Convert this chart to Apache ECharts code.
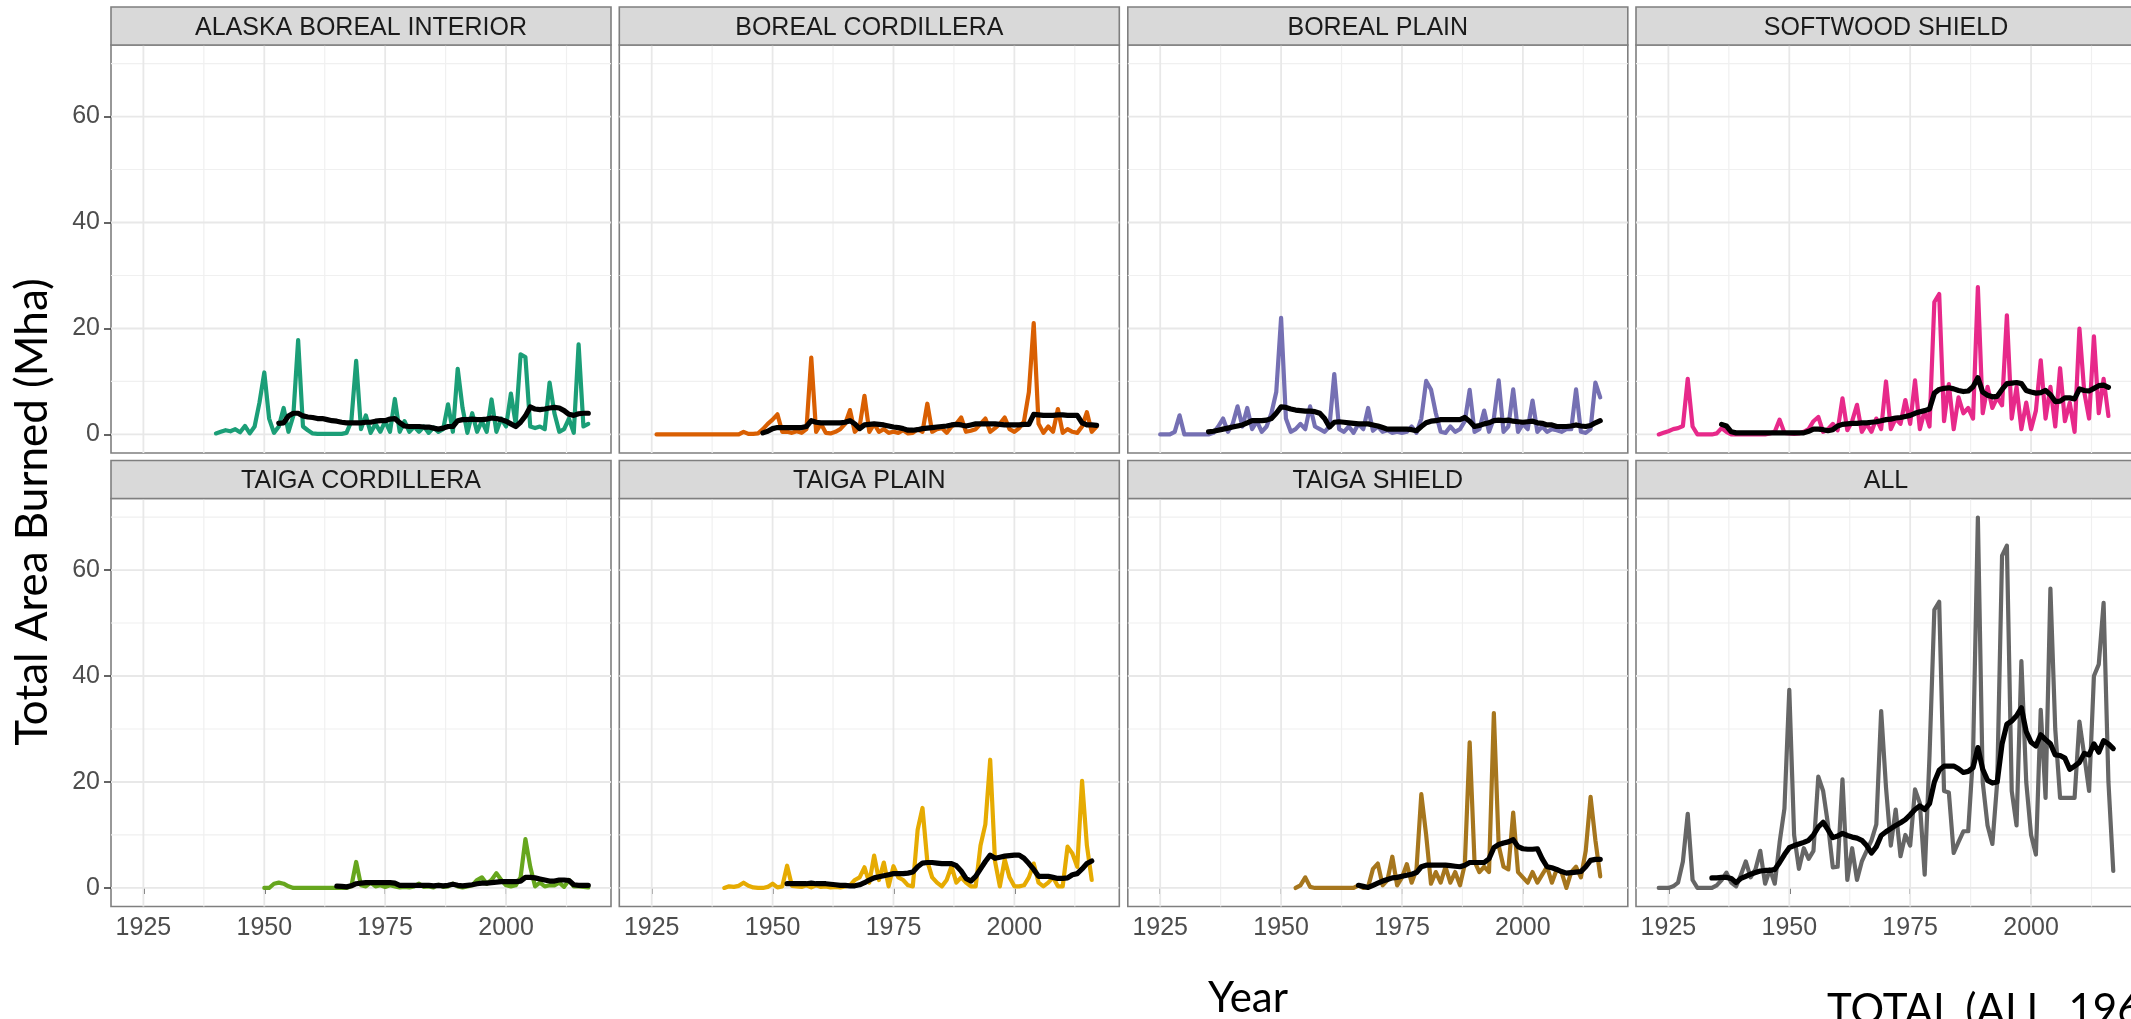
<!DOCTYPE html>
<html>
<head>
<meta charset="utf-8">
<script src="https://cdn.jsdelivr.net/npm/echarts@6.0.0/dist/echarts.min.js"></script>
<style>
  html, body { margin: 0; padding: 0; background: #ffffff; }
  #chart { width: 2131px; height: 1019px; }
</style>
</head>
<body>
<div id="chart"></div>
<script>
// Facet order: left to right, top row then bottom row
const regions = ['ALASKA BOREAL INTERIOR', 'BOREAL CORDILLERA', 'BOREAL PLAIN', 'SOFTWOOD SHIELD',
                 'TAIGA CORDILLERA', 'TAIGA PLAIN', 'TAIGA SHIELD', 'ALL'];
const lineColors = ['#1b9e77', '#d95f02', '#7570b3', '#e7298a', '#66a61e', '#e6ab02', '#a6761d', '#666666'];

// Annual area burned (Mha); each list starts at the matching year in burnedStart
const burnedStart = [1940, 1926, 1925, 1923, 1950, 1940, 1953, 1923];
const alaskaBurned = [
  0.2, 0.5, 0.8, 0.6, 1.0, 0.4, 1.6, 0.2, 1.5, 6.0,
  11.7, 3.0, 0.3, 1.5, 5.0, 0.5, 3.5, 17.8, 1.5, 0.8,
  0.2, 0.1, 0.1, 0.1, 0.1, 0.1, 0.1, 0.3, 2.5, 13.9,
  1.0, 3.6, 0.3, 2.0, 0.5, 2.5, 0.5, 6.7, 0.5, 2.5,
  0.5, 1.5, 0.5, 1.5, 0.3, 1.3, 0.5, 1.0, 5.7, 0.5,
  12.4, 5.0, 0.3, 4.0, 0.5, 2.5, 0.5, 6.6, 0.5, 3.0,
  1.5, 7.7, 2.0, 15.1, 14.6, 1.5, 1.2, 1.5, 1.0, 9.8,
  4.0, 0.5, 1.0, 3.0, 0.3, 17.0, 1.5, 2.0
];
const borealCordilleraBurned = [
  0, 0, 0, 0, 0, 0, 0, 0, 0, 0, 0, 0, 0, 0, 0, 0, 0, 0,
  0.5, 0.1, 0.1, 0.2, 1.0, 2.0, 2.8, 3.8, 0.5, 0.5,
  0.3, 0.6, 0.3, 1.0, 14.5, 0.5, 2.0, 0.3, 0.2, 0.5,
  1.0, 2.0, 4.6, 0.5, 1.5, 7.3, 0.5, 2.0, 0.5, 1.0,
  0.3, 0.5, 0.3, 0.8, 0.2, 0.3, 1.0, 0.5, 5.8, 0.5,
  1.0, 1.2, 0.3, 1.5, 2.0, 3.2, 0.5, 0.7, 1.0, 2.0,
  3.0, 0.5, 1.2, 2.0, 3.2, 1.0, 0.5, 1.2, 2.5, 8.0,
  21.0, 2.0, 0.3, 1.5, 0.5, 4.8, 0.3, 1.0, 0.5, 0.3,
  1.5, 4.2, 0.5, 1.5
];
const borealPlainBurned = [
  0, 0, 0, 0.5, 3.6, 0, 0, 0, 0, 0,
  0, 0.3, 1.5, 3.0, 0.5, 2.0, 5.3, 1.5, 5.0, 1.0,
  2.5, 0.5, 1.5, 4.0, 8.0, 22.0, 3.0, 0.5, 1.0, 2.0,
  1.0, 5.3, 1.5, 1.0, 0.5, 1.5, 11.4, 1.0, 0.5, 1.5,
  0.3, 2.0, 1.0, 5.0, 0.7, 1.5, 0.5, 0.8, 0.3, 0.5,
  0.3, 0.5, 1.5, 0.3, 3.0, 10.1, 8.5, 4.0, 0.5, 0.3,
  1.5, 0.5, 1.0, 2.5, 8.4, 0.5, 1.0, 4.5, 0.5, 3.0,
  10.2, 0.5, 1.5, 8.5, 0.5, 2.0, 1.0, 6.4, 0.5, 1.5,
  0.5, 1.0, 0.8, 0.5, 1.0, 1.0, 8.5, 0.5, 0.3, 1.0,
  9.8, 7.0
];
const softwoodShieldBurned = [
  0, 0.3, 0.6, 1.0, 1.2, 1.6, 10.5, 1.5, 0, 0,
  0, 0, 0.2, 1.2, 0.5, 0, 0, 0, 0, 0,
  0, 0, 0, 0.2, 0.5, 2.8, 0.3, 0.2, 0.1, 0.2,
  0.5, 1.0, 2.5, 3.3, 0.5, 1.0, 2.0, 0.8, 6.8, 0.8,
  2.5, 5.6, 0.5, 2.0, 0.5, 3.0, 1.0, 10.0, 1.0, 3.0,
  2.0, 6.5, 2.0, 10.2, 1.0, 4.5, 1.5, 25.0, 26.5, 2.5,
  9.5, 1.0, 7.0, 4.0, 5.0, 3.0, 27.8, 4.0, 9.0, 5.0,
  7.0, 5.5, 22.5, 3.0, 9.0, 1.0, 6.0, 1.0, 4.5, 14.0,
  3.0, 9.0, 1.5, 12.5, 2.5, 6.0, 0.5, 20.0, 8.0, 3.0,
  18.5, 4.0, 10.5, 3.5
];
const taigaCordilleraBurned = [
  0, 0, 0.8, 1.0, 0.8, 0.3, 0, 0, 0, 0,
  0, 0, 0, 0, 0, 0, 0, 0, 0.3, 4.9,
  0.5, 0.3, 1.0, 0.3, 0.5, 0.2, 0.5, 0.3, 0.1, 0.2,
  0.1, 0.3, 0.8, 0.2, 0.3, 0.1, 0.6, 0.2, 0.3, 0.8,
  0.3, 0.1, 0.3, 0.5, 1.5, 2.0, 0.8, 1.5, 2.8, 1.5,
  0.5, 0.3, 0.5, 2.0, 9.2, 4.0, 0.3, 1.0, 0.3, 0.5,
  0.5, 1.0, 0.2, 1.5, 0.3, 0.3, 0.2, 0.1
];
const taigaPlainBurned = [
  0, 0.3, 0.2, 0.4, 1.0, 0.4, 0.1, 0, 0, 0.2,
  0.8, 0.1, 0.3, 4.2, 0.4, 0.3, 0.2, 0.5, 0.1, 0.5,
  0.2, 0.3, 0.1, 0.2, 0.1, 0.3, 0.5, 1.5, 2.0, 3.9,
  1.0, 6.1, 1.5, 4.8, 0.3, 4.1, 2.0, 1.5, 0.5, 0.3,
  11.0, 15.1, 5.0, 2.0, 1.0, 0.3, 1.5, 4.1, 1.0, 2.0,
  1.0, 0.3, 0.3, 8.0, 12.0, 24.2, 5.0, 0.3, 5.4, 2.0,
  0.3, 0.3, 0.5, 2.0, 4.6, 1.0, 0.3, 1.0, 2.0, 0.3,
  0.3, 7.8, 6.5, 4.0, 20.2, 8.0, 1.5
];
const taigaShieldBurned = [
  0, 0.5, 2.0, 0.2, 0, 0, 0, 0, 0, 0,
  0, 0, 0, 0.5, 0, 0.2, 3.6, 4.6, 0.5, 1.5,
  5.9, 0.5, 2.0, 4.5, 1.0, 3.5, 17.7, 10.0, 0.8, 3.0,
  1.0, 4.0, 1.0, 3.0, 0.5, 4.5, 27.5, 5.0, 3.0, 4.0,
  3.0, 33.0, 8.0, 4.0, 3.5, 14.2, 3.0, 2.0, 1.0, 3.0,
  1.0, 2.5, 4.0, 1.0, 3.5, 3.0, 0.0, 3.0, 4.0, 2.0,
  7.0, 17.2, 9.0, 2.2
];
const allBurned = [
  0, 0, 0, 0.3, 1.0, 5.0, 14.0, 1.5, 0, 0,
  0, 0, 0.5, 1.5, 2.9, 1.0, 0.3, 2.5, 5.0, 2.0,
  3.5, 7.0, 0.8, 3.5, 0.8, 8.6, 15.0, 37.4, 10.0, 3.6,
  7.5, 5.5, 7.0, 21.0, 18.3, 12.0, 3.9, 4.0, 20.5, 1.5,
  7.5, 1.5, 5.0, 7.0, 9.0, 12.0, 33.4, 19.0, 8.0, 14.8,
  6.0, 10.0, 8.0, 18.6, 16.0, 2.5, 25.0, 52.5, 54.0, 18.3,
  18.0, 6.6, 8.7, 10.7, 10.7, 25.0, 69.9, 20.0, 11.8, 8.3,
  20.0, 62.7, 64.6, 18.3, 11.8, 42.8, 20.0, 10.0, 6.3, 33.6,
  17.0, 56.5, 30.0, 17.0, 17.0, 17.0, 17.0, 31.4, 25.0, 18.3,
  40.0, 42.2, 53.8, 20.0, 3.2
];

// Running-mean trend (Mha); each list starts at the matching year in trendStart
const trendStart = [1953, 1948, 1935, 1936, 1965, 1953, 1966, 1934];
const alaskaTrend = [
  2.1, 2.2, 3.5, 4.0, 4.0, 3.5, 3.3, 3.2, 3.0, 3.0,
  2.8, 2.6, 2.5, 2.3, 2.2, 2.2, 2.2, 2.2, 2.3, 2.3,
  2.5, 2.6, 2.6, 2.9, 3.0, 2.2, 1.6, 1.5, 1.5, 1.5,
  1.4, 1.4, 1.2, 1.0, 1.2, 1.5, 1.5, 2.6, 2.8, 2.8,
  2.9, 2.8, 2.8, 2.9, 3.1, 3.0, 2.8, 2.5, 2.0, 1.5,
  2.3, 3.5, 5.2, 4.8, 4.7, 4.8, 5.0, 5.1, 5.0, 4.5,
  3.8, 3.6, 3.9, 4.0, 4.0
];
const borealCordilleraTrend = [
  0.3, 0.6, 1.1, 1.3, 1.3, 1.3, 1.3, 1.3, 1.3, 1.5,
  2.6, 2.3, 2.2, 2.2, 2.2, 2.2, 2.2, 2.3, 2.6, 2.0,
  1.1, 1.8, 1.9, 2.0, 1.9, 1.8, 1.6, 1.4, 1.3, 1.1,
  0.8, 0.8, 0.9, 1.1, 1.2, 1.3, 1.4, 1.5, 1.6, 1.8,
  1.9, 1.8, 1.6, 1.8, 2.0, 2.0, 2.0, 2.0, 2.0, 1.9,
  1.8, 1.8, 1.8, 1.8, 1.9, 1.9, 3.8, 3.7, 3.6, 3.6,
  3.6, 3.7, 3.7, 3.6, 3.6, 3.6, 2.2, 1.8, 1.8, 1.7
];
const borealPlainTrend = [
  0.5, 0.6, 0.8, 1.0, 1.2, 1.4, 1.6, 1.8, 2.2, 2.6,
  2.6, 2.6, 2.7, 3.0, 4.0, 5.2, 5.1, 4.8, 4.6, 4.5,
  4.4, 4.4, 4.3, 4.0, 3.0, 1.4, 2.3, 2.4, 2.3, 2.2,
  2.1, 2.0, 2.0, 2.0, 1.8, 1.6, 1.3, 1.0, 1.0, 1.0,
  1.0, 1.0, 0.9, 0.7, 1.5, 2.2, 2.5, 2.6, 2.8, 2.8,
  2.8, 2.8, 2.8, 3.2, 2.5, 1.5, 1.7, 2.0, 2.2, 2.6,
  2.7, 2.6, 2.7, 2.5, 2.4, 2.3, 2.4, 2.5, 2.2, 2.1,
  1.8, 1.8, 1.5, 1.5, 1.5, 1.6, 1.8, 1.6, 1.5, 1.7,
  2.2, 2.6
];
const softwoodShieldTrend = [
  1.9, 1.6, 0.5, 0.3, 0.3, 0.3, 0.3, 0.3, 0.3, 0.3,
  0.3, 0.3, 0.3, 0.3, 0.3, 0.3, 0.3, 0.3, 0.6, 1.0,
  1.0, 0.9, 0.7, 0.9, 1.6, 1.9, 2.0, 2.1, 2.1, 2.2,
  2.2, 2.3, 2.4, 2.6, 2.8, 2.9, 3.1, 3.2, 3.4, 3.6,
  4.0, 4.3, 4.5, 4.8, 7.8, 8.5, 8.7, 8.8, 8.6, 8.3,
  8.1, 8.2, 9.0, 10.7, 8.0, 7.4, 7.1, 7.2, 8.5, 9.6,
  9.7, 9.8, 9.6, 8.3, 8.0, 7.8, 7.9, 8.3, 7.5, 6.2,
  6.3, 6.9, 6.9, 6.7, 8.6, 8.3, 8.2, 8.7, 9.2, 9.3,
  8.9
];
const taigaCordilleraTrend = [
  0.35, 0.3, 0.2, 0.4, 0.8, 0.9, 1.0, 1.0, 1.0, 1.0,
  1.0, 1.0, 0.9, 0.5, 0.5, 0.5, 0.5, 0.5, 0.5, 0.5,
  0.4, 0.5, 0.4, 0.5, 0.7, 0.5, 0.4, 0.5, 0.6, 0.8,
  0.9, 0.9, 1.0, 1.1, 1.2, 1.2, 1.2, 1.2, 1.3, 2.0,
  2.0, 1.9, 1.7, 1.5, 1.3, 1.3, 1.5, 1.5, 1.4, 0.6,
  0.5, 0.5, 0.5
];
const taigaPlainTrend = [
  0.8, 0.8, 0.8, 0.8, 0.8, 0.9, 0.8, 0.8, 0.8, 0.7,
  0.6, 0.5, 0.5, 0.4, 0.4, 0.6, 1.0, 1.5, 1.9, 2.1,
  2.3, 2.5, 2.7, 2.7, 2.7, 2.8, 3.0, 4.0, 4.7, 4.8,
  4.8, 4.7, 4.6, 4.6, 4.6, 4.2, 3.2, 1.8, 1.3, 2.2,
  3.6, 5.0, 6.2, 5.6, 5.8, 6.0, 6.1, 6.2, 6.2, 5.6,
  4.6, 3.5, 2.2, 2.2, 2.2, 2.0, 1.8, 1.8, 1.9, 2.5,
  2.7, 3.6, 4.6, 5.1
];
const taigaShieldTrend = [
  0.5, 0.3, 0.1, 0.5, 0.9, 1.3, 1.6, 1.9, 2.0, 2.2,
  2.4, 2.6, 2.9, 4.0, 4.3, 4.3, 4.3, 4.3, 4.3, 4.2,
  4.1, 4.0, 4.3, 4.8, 4.8, 4.8, 4.8, 5.5, 7.6, 8.2,
  8.5, 8.7, 9.1, 7.8, 7.4, 7.3, 7.3, 7.4, 5.5, 4.0,
  3.8, 3.5, 3.1, 2.8, 2.9, 3.0, 3.1, 4.0, 5.2, 5.4,
  5.4
];
const allTrend = [
  1.9, 1.9, 2.0, 2.0, 1.8, 1.0, 1.8, 2.2, 2.6, 2.9,
  3.2, 3.3, 3.3, 3.5, 4.8, 6.3, 7.6, 8.0, 8.3, 8.6,
  9.0, 10.0, 11.5, 12.4, 11.0, 9.5, 9.8, 10.3, 9.9, 9.6,
  9.4, 9.0, 8.0, 6.6, 7.8, 9.9, 10.6, 11.2, 11.8, 12.3,
  12.9, 13.8, 14.8, 15.5, 14.8, 15.9, 20.0, 22.2, 23.0, 23.0,
  23.0, 22.5, 21.8, 22.0, 22.7, 26.5, 22.4, 20.3, 19.8, 20.0,
  27.2, 30.9, 31.5, 32.5, 34.0, 29.5, 27.5, 26.8, 28.9, 28.0,
  27.2, 25.1, 25.0, 24.5, 22.4, 23.0, 23.7, 25.4, 25.1, 27.2,
  25.6, 27.8, 27.2, 26.3
];

// Axis ticks shared by every panel
const yearTicks = [1925, 1950, 1975, 2000];
const yearMinorTicks = [1937.5, 1962.5, 1987.5, 2012.5];
const areaTicks = [0, 20, 40, 60];
const areaMinorTicks = [10, 30, 50, 70];

const burnedSeries = [alaskaBurned, borealCordilleraBurned, borealPlainBurned, softwoodShieldBurned,
                      taigaCordilleraBurned, taigaPlainBurned, taigaShieldBurned, allBurned];
const trendSeries = [alaskaTrend, borealCordilleraTrend, borealPlainTrend, softwoodShieldTrend,
                     taigaCordilleraTrend, taigaPlainTrend, taigaShieldTrend, allTrend];

// Axis limits: data span plus a 5% pad on each side
const X_MIN = 1918.3, X_MAX = 2021.7;
const Y_MIN = -3.5, Y_MAX = 73.5;

// Facet geometry (px)
const COL_LEFT = [111, 619.3, 1127.8, 1636];
const ROW_TOP = [45, 498.5];
const PANEL_W = 500, PANEL_H = 408, STRIP_H = 38;
const BORDER = '#7f7f7f';
const TICK_FONT = '"Liberation Sans", Arial, sans-serif';
const TITLE_FONT = 'Lato, "Open Sans", sans-serif';

function toPairs(start, values) {
  return values.map((v, k) => [start + k, v]);
}

// Grid lines as broken polylines: one segment per tick value
function gridSegments(values, vertical) {
  const out = [];
  values.forEach(v => {
    if (vertical) { out.push([v, Y_MIN], [v, Y_MAX], [v, '-']); }
    else { out.push([X_MIN, v], [X_MAX, v], ['-', v]); }
  });
  return out;
}

const plainNumber = v => String(v);

const grids = [], xAxes = [], yAxes = [], series = [], graphics = [];

regions.forEach((name, i) => {
  const col = i % 4, row = Math.floor(i / 4);
  const left = COL_LEFT[col], top = ROW_TOP[row];

  grids.push({
    left: left, top: top, width: PANEL_W, height: PANEL_H,
    show: true, borderColor: BORDER, borderWidth: 1.6, backgroundColor: '#ffffff',
    containLabel: false, outerBoundsMode: 'none'
  });

  xAxes.push({
    gridIndex: i, type: 'value', min: X_MIN, max: X_MAX,
    axisLine: { show: false },
    axisTick: { show: row === 1, customValues: yearTicks, length: 6, lineStyle: { color: '#333333', width: 1.5 } },
    axisLabel: { show: row === 1, customValues: yearTicks, formatter: plainNumber, fontSize: 25,
                 color: '#4d4d4d', fontFamily: TICK_FONT, margin: 9 },
    splitLine: { show: false }
  });

  yAxes.push({
    gridIndex: i, type: 'value', min: Y_MIN, max: Y_MAX,
    axisLine: { show: false },
    axisTick: { show: col === 0, customValues: areaTicks, length: 7, lineStyle: { color: '#333333', width: 1.5 } },
    axisLabel: { show: col === 0, customValues: areaTicks, formatter: plainNumber, fontSize: 25,
                 color: '#4d4d4d', fontFamily: TICK_FONT, margin: 11 },
    splitLine: { show: false }
  });

  const gridStyle = (color, width) => ({ color: color, width: width });
  series.push(
    { type: 'line', xAxisIndex: i, yAxisIndex: i, silent: true, symbol: 'none', z: 1,
      data: gridSegments(yearMinorTicks, true).concat(gridSegments(areaMinorTicks, false)),
      lineStyle: gridStyle('#f0f0f0', 1.2) },
    { type: 'line', xAxisIndex: i, yAxisIndex: i, silent: true, symbol: 'none', z: 1,
      data: gridSegments(yearTicks, true).concat(gridSegments(areaTicks, false)),
      lineStyle: gridStyle('#e8e8e8', 1.8) },
    { type: 'line', name: name, xAxisIndex: i, yAxisIndex: i, symbol: 'none', z: 3,
      data: toPairs(burnedStart[i], burnedSeries[i]),
      lineStyle: { color: lineColors[i], width: 4.2, join: 'round', cap: 'round' } },
    { type: 'line', name: name + ' trend', xAxisIndex: i, yAxisIndex: i, symbol: 'none', z: 4,
      data: toPairs(trendStart[i], trendSeries[i]),
      lineStyle: { color: '#000000', width: 5.2, join: 'round', cap: 'round' } }
  );

  // facet strip
  graphics.push({
    type: 'rect', z: 10,
    shape: { x: left, y: top - STRIP_H, width: PANEL_W, height: STRIP_H },
    style: { fill: '#d9d9d9', stroke: BORDER, lineWidth: 1.6 }
  });
  graphics.push({
    type: 'text', z: 11, x: left + PANEL_W / 2, y: top - STRIP_H / 2 + 2,
    style: { text: name, fill: '#1a1a1a', fontSize: 25, fontFamily: TICK_FONT,
             align: 'center', verticalAlign: 'middle' }
  });
});

// Axis titles and footer caption
graphics.push({
  type: 'text', z: 11, x: 33, y: 512, rotation: Math.PI / 2,
  style: { text: 'Total Area Burned (Mha)', fill: '#000000', fontSize: 44, fontFamily: TITLE_FONT,
           align: 'center', verticalAlign: 'middle' }
});
graphics.push({
  type: 'text', z: 11, x: 1248, y: 998,
  style: { text: 'Year', fill: '#000000', fontSize: 42, fontFamily: TITLE_FONT,
           align: 'center', verticalAlign: 'middle' }
});
graphics.push({
  type: 'text', z: 11, x: 1827, y: 1010,
  style: { text: 'TOTAL (ALL, 196', fill: '#000000', fontSize: 42, fontFamily: TITLE_FONT,
           align: 'left', verticalAlign: 'middle' }
});

const chart = echarts.init(document.getElementById('chart'), null, { renderer: 'canvas' });
chart.setOption({
  animation: false,
  backgroundColor: '#ffffff',
  grid: grids,
  xAxis: xAxes,
  yAxis: yAxes,
  series: series,
  graphic: { elements: graphics }
});
</script>
</body>
</html>
